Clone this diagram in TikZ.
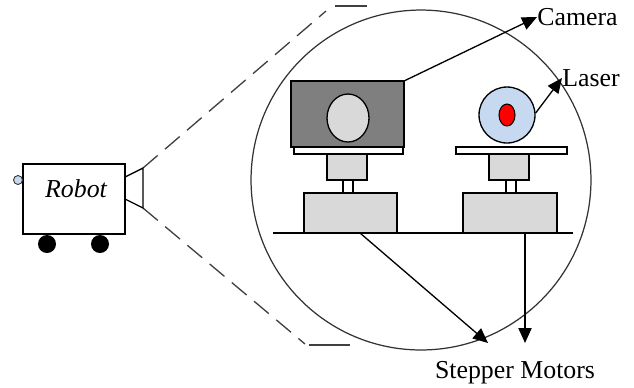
\documentclass[tikz,border=0pt]{standalone}
\usepackage{fontspec}
\setmainfont{Liberation Serif}
\usetikzlibrary{arrows.meta,shapes.geometric}
\definecolor{camgray}{HTML}{7F7F7F}
\definecolor{partgray}{HTML}{D9D9D9}
\definecolor{laserblue}{HTML}{C6D9F1}
\definecolor{laserred}{HTML}{FF0000}
\begin{document}
\begin{tikzpicture}[x=0.02cm,y=-0.02cm,
  part/.style={draw=black,line width=0.75pt,rectangle,inner sep=0pt,outer sep=0pt},
  label/.style={inner sep=0pt,font=\fontsize{14.7}{17}\selectfont},
  pointer/.style={draw=black,line width=0.75pt,-{Triangle[length=8.5pt,width=7.5pt]}},
  zoomline/.style={draw=black!75,line width=0.75pt,dash pattern=on 11pt off 5.5pt},
  zoomedge/.style={draw=black!75,line width=0.75pt}
]
\useasboundingbox (0,0) rectangle (634,387);

% zoom cone from the robot's camera to the detail circle
\coordinate (coneT) at (143,168);
\coordinate (coneB) at (143,208);
\draw[zoomline] (coneT) -- (326,11);
\draw[zoomedge] (335,6) -- (367,6);
\draw[zoomline] (coneB) -- (305,344);
\draw[zoomedge] (309,345) -- (350,345);

% detail circle
\node[circle,draw=black!80,line width=0.7pt,minimum size=6.8cm,inner sep=0pt] (detail) at (421,180) {};

% robot
\node[circle,fill=black,minimum size=0.36cm,inner sep=0pt] (wheelL) at (47,244) {};
\node[circle,fill=black,minimum size=0.36cm,inner sep=0pt] (wheelR) at (100,244) {};
\node[part,fill=white,minimum width=2.04cm,minimum height=1.4cm] (robot) at (74,199) {};
\node[label,font=\fontsize{14.7}{17}\selectfont\itshape] (robotlbl) at (76,189) {Robot};
\node[circle,draw=black!80,fill=laserblue,line width=0.5pt,minimum size=0.18cm,inner sep=0pt] (sensor) at (18,180) {};
\draw[line width=0.75pt] (125,177) -- (coneT) -- (coneB) -- (125,199);

% ground line
\coordinate (gl) at (273,233);
\coordinate (gr) at (573,233);
\draw[line width=0.75pt] (gl) -- (gr);

% camera assembly
\node[part,fill=partgray,minimum width=1.86cm,minimum height=0.8cm] (baseL) at (350.5,213) {};
\draw[line width=0.75pt] (343,180) -- (343,193) (353,180) -- (353,193);
\node[part,fill=partgray,minimum width=0.8cm,minimum height=0.52cm] (mountL) at (347,167) {};
\node[part,fill=white,minimum width=2.18cm,minimum height=0.14cm] (plateL) at (348.5,150.5) {};
\node[part,fill=camgray,minimum width=2.26cm,minimum height=1.32cm] (camera) at (347.5,114) {};
\node[ellipse,draw=black,line width=0.75pt,fill=partgray,minimum width=0.84cm,minimum height=0.96cm,inner sep=0pt] (lens) at (348,118) {};

% laser assembly
\node[part,fill=partgray,minimum width=1.88cm,minimum height=0.8cm] (baseR) at (510,213) {};
\draw[line width=0.75pt] (506,180) -- (506,193) (516,180) -- (516,193);
\node[part,fill=partgray,minimum width=0.8cm,minimum height=0.52cm] (mountR) at (509,167) {};
\node[part,fill=white,minimum width=2.22cm,minimum height=0.14cm] (plateR) at (511.5,150.5) {};
\node[circle,draw=black,line width=0.75pt,fill=laserblue,minimum size=1.12cm,inner sep=0pt] (laser) at (507,115) {};
\node[ellipse,draw=black,line width=0.6pt,fill=laserred,minimum width=0.32cm,minimum height=0.44cm,inner sep=0pt] (dot) at (507,115) {};

% labels
\node[label,anchor=west] (camlbl) at (537,17) {Camera};
\node[label,anchor=west] (laslbl) at (562,78) {Laser};
\node[label] (motlbl) at (515,373) {Stepper Motors};

% pointers
\draw[pointer] (camera.north east) -- (camlbl.west);
\draw[pointer] (laser.east) ++(0,-2) -- (laslbl.west);
\coordinate (motL) at (360,233);
\coordinate (motR) at (525,233);
\draw[pointer] (motL) -- (488,343);
\draw[pointer] (motR) -- (525,343);
\end{tikzpicture}
\end{document}
